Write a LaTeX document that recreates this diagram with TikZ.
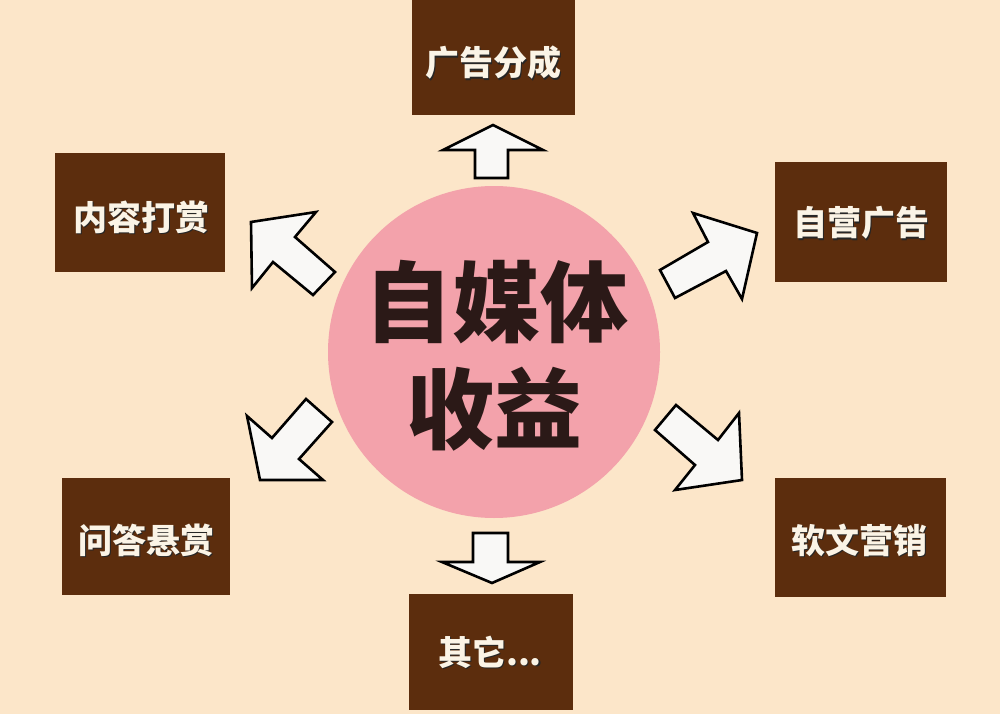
\documentclass[tikz,border=0pt]{standalone}
\usepackage{fontspec}
\newfontfamily\cjk{Noto Sans CJK SC}
\definecolor{bgc}{HTML}{FCE6C9}
\definecolor{pinkc}{HTML}{F3A2AB}
\definecolor{boxc}{HTML}{5C2D0D}
\definecolor{txtw}{HTML}{FBF4E6}
\definecolor{txtd}{HTML}{2B1917}
\definecolor{arrf}{HTML}{F9F8F6}
\tikzset{
  boxst/.style={fill=boxc, draw=none},
  lbl/.style={inner sep=0pt, text=txtw, font=\cjk\bfseries\fontsize{34}{34}\selectfont},
  lblsh/.style={inner sep=0pt, text=black!85, font=\cjk\bfseries\fontsize{34}{34}\selectfont},
  bigtxt/.style={inner sep=0pt, text=txtd, font=\cjk\bfseries\fontsize{88}{88}\selectfont},
  blockarrow/.style={fill=arrf, draw=black, line width=2.6pt, line join=miter}
}
\begin{document}
\begin{tikzpicture}[x=1pt,y=-1pt]
\fill[bgc] (0,0) rectangle (1000,714);
\useasboundingbox (0,0) rectangle (1000,714);
% center circle
\node[circle, fill=pinkc, minimum size=332pt, inner sep=0pt] (hub) at (494,352) {};
\node[bigtxt] (t1) at (496,302) {自媒体};
\node[bigtxt] (t2) at (494,409) {收益};
% boxes
\fill[boxst] (412,0) rectangle (575,115);
\fill[boxst] (55,153) rectangle (225,272);
\fill[boxst] (775,162) rectangle (947,282);
\fill[boxst] (62,478) rectangle (230,595);
\fill[boxst] (775,478) rectangle (946,597);
\fill[boxst] (409,594) rectangle (573,710);
\foreach \p/\t/\x/\y in {a/广告分成/493/63, b/内容打赏/141/217, c/自营广告/861/223, d/问答悬赏/146/540, e/软文营销/859/540}{
  \node[lblsh] at (\x+1.8,\y+1.8) {\t};
  \node[lbl] (\p) at (\x,\y) {\t};
}
\node[lblsh] at (491.8,653.8) {其它...};
\node[lbl] (f) at (490,652) {其它...};
% block arrows
\draw[blockarrow] (493,125) -- (543,150) -- (508,150) -- (508,178) -- (475,178) -- (475,150) -- (443,150) -- cycle;
\draw[blockarrow] (492,583) -- (540,562) -- (508,562) -- (508,533) -- (473,533) -- (473,562) -- (442,562) -- cycle;
\draw[blockarrow] (251,222) -- (316,212) -- (295,237) -- (335,272) -- (313,295) -- (273,262) -- (252,288) -- cycle;
\draw[blockarrow] (757,233) -- (693,213) -- (708,242) -- (660,270) -- (675,298) -- (726,271) -- (742,299) -- cycle;
\draw[blockarrow] (260,480) -- (247,416) -- (272,438) -- (306,399) -- (332,422) -- (299,459) -- (323,480) -- cycle;
\draw[blockarrow] (742,480) -- (739,413) -- (718,440) -- (676,405) -- (655,430) -- (695,465) -- (675,490) -- cycle;
\end{tikzpicture}
\end{document}
